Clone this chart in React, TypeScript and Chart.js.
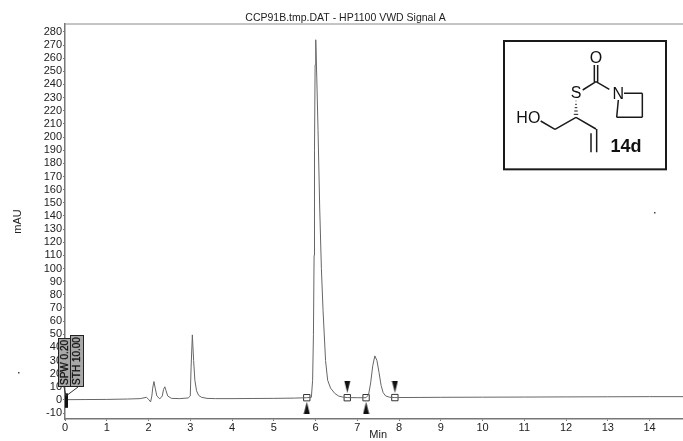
import React, { useEffect, useRef } from "react";
import { Chart, registerables } from "chart.js";

Chart.register(...registerables);

const FONT = "'Liberation Sans', Arial, sans-serif";
const chartTitle = "CCP91B.tmp.DAT - HP1100 VWD Signal A";
const xTitle = "Min";
const yTitle = "mAU";
const xTicks = [0, 1, 2, 3, 4, 5, 6, 7, 8, 9, 10, 11, 12, 13, 14];
const yTicks = [-10, 0, 10, 20, 30, 40, 50, 60, 70, 80, 90, 100, 110, 120, 130, 140, 150, 160, 170, 180, 190, 200, 210, 220, 230, 240, 250, 260, 270, 280];

const times = [0, 0.5, 1, 1.5, 1.8, 1.95, 2.0, 2.05, 2.08, 2.1, 2.13, 2.16, 2.2, 2.27, 2.33, 2.36, 2.39, 2.42, 2.46, 2.55, 2.75, 2.95, 3.0, 3.02, 3.05, 3.08, 3.11, 3.15, 3.2, 3.27, 3.4, 3.6, 4, 4.5, 5, 5.5, 5.78, 5.9, 5.93, 5.95, 5.965, 5.975, 5.99, 6.005, 6.03, 6.06, 6.1, 6.14, 6.18, 6.24, 6.29, 6.36, 6.46, 6.55, 6.65, 6.76, 7, 7.21, 7.27, 7.32, 7.37, 7.42, 7.47, 7.52, 7.57, 7.62, 7.68, 7.78, 7.9, 8.5, 9, 10, 11, 12, 13, 14, 14.8];
const signal = [0.2, 0.3, 0.4, 0.7, 1, 2, 0.5, -1.5, 3, 9, 14, 9, 3, 0.8, 3, 8, 10, 7, 3, 1.2, 1, 1.5, 3, 25, 49.5, 30, 15, 7, 3.5, 2, 1.2, 1, 1, 1.1, 1.2, 1.4, 1.7, 2, 15, 50, 110, 190, 255, 274, 245, 205, 146, 100, 68, 30, 15, 9, 5, 3, 2.2, 1.8, 1.7, 1.7, 4, 13, 26, 33.5, 30, 21, 11, 5.5, 3, 2, 1.8, 1.9, 2, 2.1, 2.2, 2.3, 2.4, 2.5, 2.5];

const squareTimes = [5.79, 6.76, 7.21, 7.9];
const squareValues = [1.7, 1.7, 1.7, 1.8];
const upArrowTimes = [5.79, 7.21];
const upArrowValues = [-6, -6];
const downArrowTimes = [6.76, 7.9];
const downArrowValues = [10, 10];

function arrow(up: boolean) {
  const c = document.createElement("canvas");
  c.width = 7;
  c.height = 12;
  const g = c.getContext("2d")!;
  g.fillStyle = "#111";
  g.beginPath();
  if (up) {
    g.moveTo(3.5, 0);
    g.lineTo(6.5, 12);
    g.lineTo(0.5, 12);
  } else {
    g.moveTo(0.5, 0);
    g.lineTo(6.5, 0);
    g.lineTo(3.5, 12);
  }
  g.closePath();
  g.fill();
  return c;
}

const overlay = {
  id: "overlay",
  afterDraw(chart: any) {
    const g: CanvasRenderingContext2D = chart.ctx;
    const { chartArea: a, scales } = chart;
    const X = (v: number) => scales.x.getPixelForValue(v);
    const Y = (v: number) => scales.y.getPixelForValue(v);
    g.save();

    // top frame line
    g.strokeStyle = "#8a8a8a";
    g.lineWidth = 1;
    g.beginPath();
    g.moveTo(a.left, a.top);
    g.lineTo(a.right, a.top);
    g.stroke();

    // x axis title
    g.fillStyle = "#222";
    g.font = `11px ${FONT}`;
    g.textAlign = "center";
    g.textBaseline = "middle";
    g.fillText(xTitle, X(7.5), 435);

    // start marker
    g.fillStyle = "#111";
    g.fillRect(X(0), Y(5), 3, Y(-6) - Y(5));

    // SPW / STH tags
    g.strokeStyle = "#333";
    g.lineWidth = 1;
    g.beginPath();
    g.moveTo(X(0) + 1, 396);
    g.lineTo(64, 387);
    g.moveTo(X(0) + 1, 396);
    g.lineTo(78, 387);
    g.stroke();
    const tag = (x: number, y: number, w: number, h: number, t: string) => {
      g.fillStyle = "#a8a8a8";
      g.fillRect(x, y, w, h);
      g.strokeStyle = "#222";
      g.strokeRect(x + 0.5, y + 0.5, w - 1, h - 1);
      g.save();
      g.translate(x + w / 2, y + h / 2);
      g.rotate(-Math.PI / 2);
      g.fillStyle = "#111";
      g.strokeStyle = "#111";
      g.lineWidth = 0.3;
      g.font = `10px ${FONT}`;
      g.textAlign = "center";
      g.textBaseline = "middle";
      g.fillText(t, 0, 0.5);
      g.strokeText(t, 0, 0.5);
      g.restore();
    };
    tag(58, 338, 13, 49, "SPW 0.20");
    tag(70, 335, 14, 52, "STH 10.00");

    // specks
    g.fillStyle = "#444";
    g.fillRect(18, 372, 1.5, 1.5);
    g.fillRect(654, 212, 1.5, 1.5);

    // structure box
    const zx = (v: number) => 490 + v / 3;
    const zy = (v: number) => 30 + v / 3;
    g.fillStyle = "#fff";
    g.fillRect(zx(42), zy(33), zx(528) - zx(42), zy(418) - zy(33));
    g.strokeStyle = "#1a1a1a";
    g.lineWidth = 2;
    g.strokeRect(zx(42), zy(33), zx(528) - zx(42), zy(418) - zy(33));

    g.lineWidth = 1.5;
    const bonds = [
      [313, 105, 313, 155],
      [323, 105, 323, 155],
      [318, 155, 278, 180],
      [318, 155, 358, 178],
      [385, 210, 380, 262],
      [380, 262, 457, 262],
      [457, 262, 457, 190],
      [457, 190, 402, 190],
      [258, 262, 195, 298],
      [195, 298, 152, 273],
      [258, 262, 318, 297],
      [303, 310, 303, 367],
      [320, 297, 320, 367],
    ];
    g.beginPath();
    bonds.forEach(([x1, y1, x2, y2]) => {
      g.moveTo(zx(x1), zy(y1));
      g.lineTo(zx(x2), zy(y2));
    });
    g.stroke();
    // hashed bond
    g.lineWidth = 1;
    for (let i = 0; i < 5; i++) {
      const yy = 213 + i * 10;
      const hw = 1 + i * 1.4;
      g.beginPath();
      g.moveTo(zx(258 - hw), zy(yy));
      g.lineTo(zx(258 + hw), zy(yy));
      g.stroke();
    }
    g.fillStyle = "#111";
    g.font = `16px ${FONT}`;
    g.textAlign = "center";
    g.textBaseline = "middle";
    g.fillText("O", zx(318), zy(85));
    g.fillText("S", zx(258), zy(192));
    g.fillText("N", zx(385), zy(194));
    g.fillText("HO", zx(115), zy(266));
    g.font = `bold 18px ${FONT}`;
    g.fillText("14d", zx(408), zy(351));
    g.restore();
  },
};

export default function App() {
  const ref = useRef<HTMLCanvasElement>(null);
  useEffect(() => {
    document.body.style.margin = "0";
    document.body.style.background = "#fff";
    const xy = (xs: number[], ys: number[]) => xs.map((x, i) => ({ x, y: ys[i] }));
    const chart = new Chart(ref.current!, {
      type: "scatter",
      plugins: [overlay],
      data: {
        datasets: [
          {
            label: "Signal A",
            data: xy(times, signal),
            showLine: true,
            borderColor: "#666",
            borderWidth: 1,
            pointRadius: 0,
            tension: 0,
          },
          {
            label: "Integration",
            data: xy(squareTimes, squareValues),
            pointStyle: "rect",
            pointRadius: 4.5,
            pointBackgroundColor: "rgba(255,255,255,0)",
            pointBorderColor: "#333",
            pointBorderWidth: 1,
          },
          {
            label: "Start",
            data: xy(upArrowTimes, upArrowValues),
            pointStyle: arrow(true),
          },
          {
            label: "End",
            data: xy(downArrowTimes, downArrowValues),
            pointStyle: arrow(false),
          },
        ],
      },
      options: {
        animation: false,
        responsive: false,
        layout: { autoPadding: false, padding: { left: 8, right: 0, top: 0.4, bottom: 0 } },
        plugins: {
          legend: { display: false },
          tooltip: { enabled: false },
          title: {
            display: true,
            text: chartTitle,
            color: "#222",
            font: { family: FONT, size: 10.5, weight: "normal" },
            padding: { top: 11, bottom: 0 },
          },
        },
        scales: {
          x: {
            type: "linear",
            min: 0,
            max: 14.8,
            afterFit: (s: any) => { s.height = 22; },
            afterBuildTicks: (s: any) => { s.ticks = xTicks.map((value) => ({ value })); },
            border: { color: "#777", width: 1.5 },
            grid: { drawOnChartArea: false, tickLength: 2, color: "#777" },
            ticks: { color: "#222", font: { family: FONT, size: 11 }, padding: 0, maxRotation: 0, autoSkip: false },
          },
          y: {
            type: "linear",
            min: -14.5,
            max: 286,
            afterFit: (s: any) => { s.width = 57; },
            afterBuildTicks: (s: any) => { s.ticks = yTicks.map((value) => ({ value })); },
            border: { color: "#777", width: 1.5 },
            grid: { drawOnChartArea: false, tickLength: 2, color: "#777" },
            title: { display: true, text: yTitle, color: "#222", font: { family: FONT, size: 11 }, padding: { top: 3, bottom: 0 } },
            ticks: { color: "#222", font: { family: FONT, size: 11 }, padding: 1, autoSkip: false },
          },
        },
      },
    } as any);
    return () => chart.destroy();
  }, []);
  return <canvas ref={ref} width={683} height={441} style={{ display: "block" }} />;
}
